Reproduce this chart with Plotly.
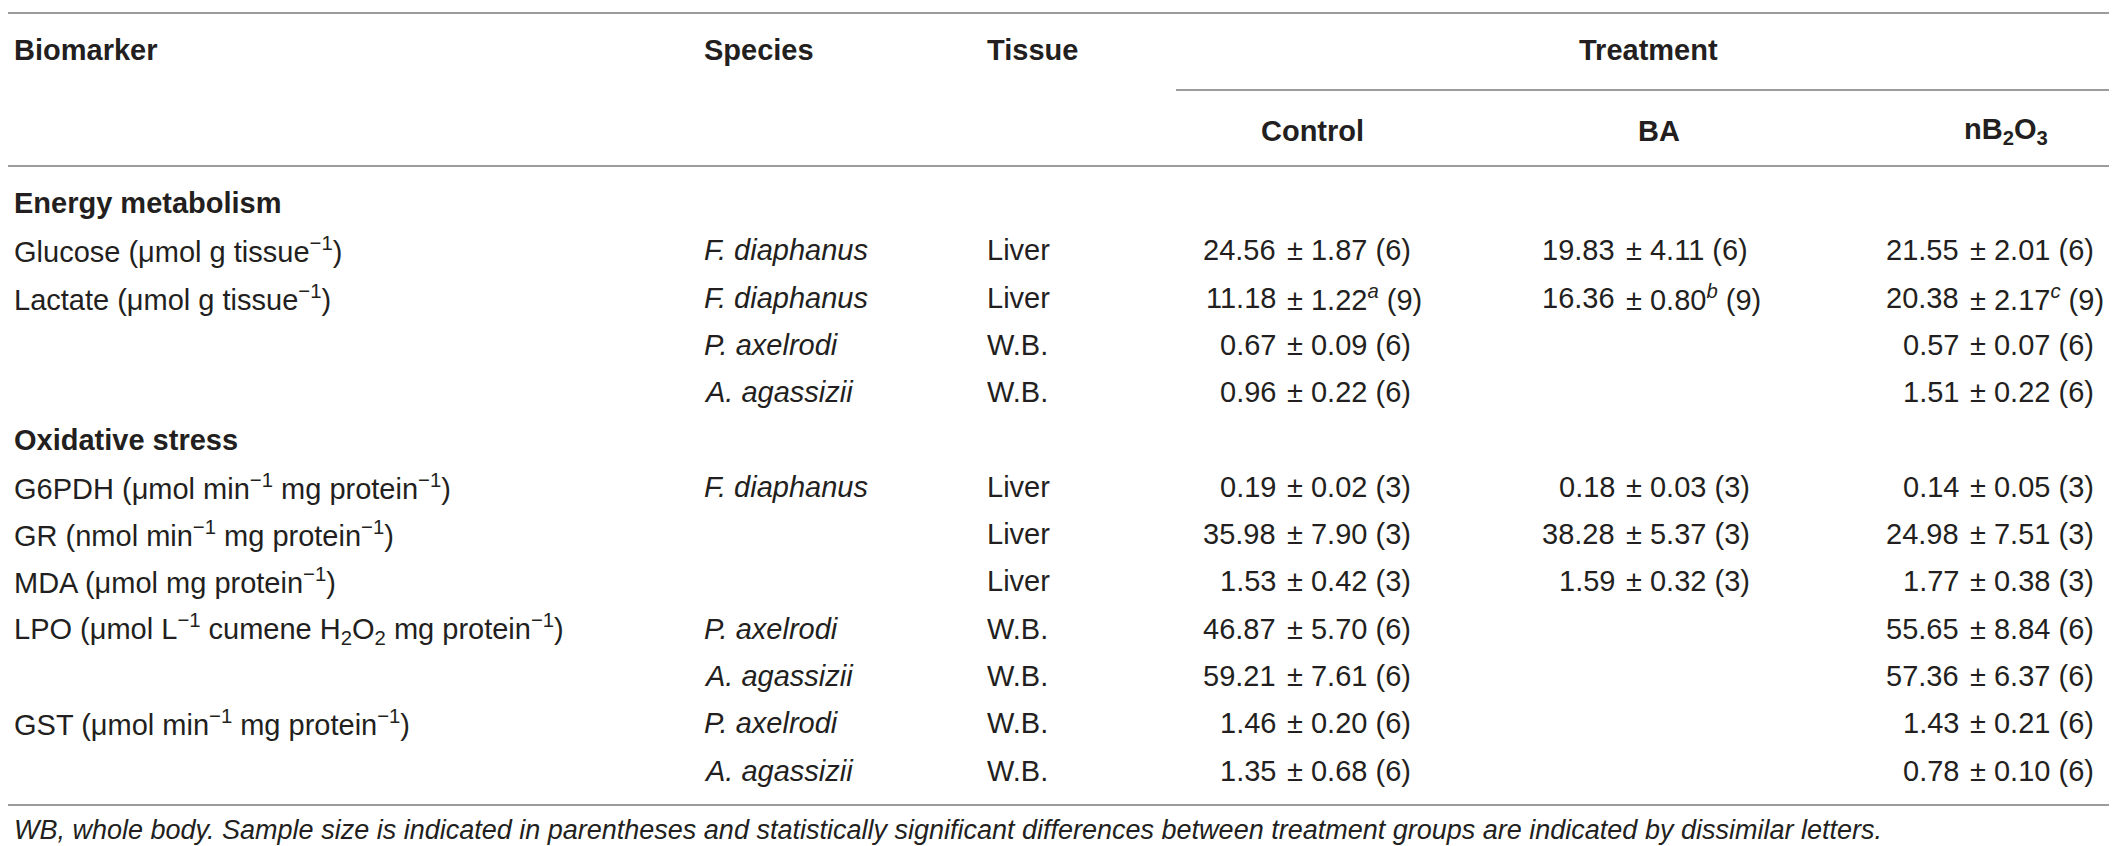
import plotly.graph_objects as go

# table content, one entry per body row (section headings included)
row_labels = [
    "Energy metabolism",
    "Glucose (μmol g tissue<sup>−1</sup>)",
    "Lactate (μmol g tissue<sup>−1</sup>)",
    "",
    "",
    "Oxidative stress",
    "G6PDH (μmol min<sup>−1</sup> mg protein<sup>−1</sup>)",
    "GR (nmol min<sup>−1</sup> mg protein<sup>−1</sup>)",
    "MDA (μmol mg protein<sup>−1</sup>)",
    "LPO (μmol L<sup>−1</sup> cumene H<sub>2</sub>O<sub>2</sub> mg protein<sup>−1</sup>)",
    "",
    "GST (μmol min<sup>−1</sup> mg protein<sup>−1</sup>)",
    "",
]
section_rows = [0, 5]
species = ["", "F. diaphanus", "F. diaphanus", "P. axelrodi", "A. agassizii", "",
           "F. diaphanus", "", "", "P. axelrodi", "A. agassizii", "P. axelrodi", "A. agassizii"]
tissue = ["", "Liver", "Liver", "W.B.", "W.B.", "",
          "Liver", "Liver", "Liver", "W.B.", "W.B.", "W.B.", "W.B."]
control = ["", "24.56 ± 1.87 (6)", "11.18 ± 1.22<sup><i>a</i></sup> (9)", "0.67 ± 0.09 (6)",
           "0.96 ± 0.22 (6)", "", "0.19 ± 0.02 (3)", "35.98 ± 7.90 (3)", "1.53 ± 0.42 (3)",
           "46.87 ± 5.70 (6)", "59.21 ± 7.61 (6)", "1.46 ± 0.20 (6)", "1.35 ± 0.68 (6)"]
ba = ["", "19.83 ± 4.11 (6)", "16.36 ± 0.80<sup><i>b</i></sup> (9)", "", "", "",
      "0.18 ± 0.03 (3)", "38.28 ± 5.37 (3)", "1.59 ± 0.32 (3)", "", "", "", ""]
nb2o3 = ["", "21.55 ± 2.01 (6)", "20.38 ± 2.17<sup><i>c</i></sup> (9)", "0.57 ± 0.07 (6)",
         "1.51 ± 0.22 (6)", "", "0.14 ± 0.05 (3)", "24.98 ± 7.51 (3)", "1.77 ± 0.38 (3)",
         "55.65 ± 8.84 (6)", "57.36 ± 6.37 (6)", "1.43 ± 0.21 (6)", "0.78 ± 0.10 (6)"]

headers = ["Biomarker", "Species", "Tissue"]
group_header = "Treatment"
treatments = ["Control", "BA", "nB<sub>2</sub>O<sub>3</sub>"]
footnote = ("WB, whole body. Sample size is indicated in parentheses and statistically "
            "significant differences between treatment groups are indicated by dissimilar letters.")

# layout (x in pixels, y in row units)
W, H = 2117, 846
first_row_px, row_px = 195, 47.3
x_label, x_species, x_tissue = 4, 694, 977
x_pm = [1277, 1616, 1960]          # left edge of the "±" in each treatment column
x_treat_head = [1304, 1651, 1998]
x_treat_group = 1640
x_right = 2114


def row_y(px):
    return (px - first_row_px) / row_px


FONT = "Liberation Sans, Arial, Helvetica, sans-serif"
TXT = "#231f20"
LINE = "#7b7b7b"
fs = 29

fig = go.Figure()
# invisible trace so the axes exist
fig.add_trace(go.Scatter(x=[0, W], y=[row_y(0), row_y(H)], mode="markers",
                         marker=dict(opacity=0), hoverinfo="skip", showlegend=False))

ann = []


def add(x, y, text, anchor="left", bold=False, italic=False, size=fs):
    if bold:
        text = f"<b>{text}</b>"
    if italic:
        text = f"<i>{text}</i>"
    ann.append(dict(x=x, y=y, xref="x", yref="y", text=text, showarrow=False,
                    xanchor=anchor, yanchor="middle",
                    font=dict(family=FONT, size=size, color=TXT)))


# header rows
y_h1, y_h2 = row_y(42), row_y(123)
for txt, x in zip(headers, [x_label, x_species, x_tissue]):
    add(x, y_h1, txt, bold=True)
add(x_treat_group, y_h1, group_header, anchor="center", bold=True)
for txt, x in zip(treatments, x_treat_head):
    add(x, y_h2, txt, anchor="center", bold=True)

# body rows
for i in range(len(row_labels)):
    if row_labels[i]:
        add(x_label, i, row_labels[i], bold=i in section_rows)
    if species[i]:
        add(x_species, i, species[i], italic=True)
    if tissue[i]:
        add(x_tissue, i, tissue[i])
    for col, xp in zip([control, ba, nb2o3], x_pm):
        if col[i]:
            left, right = col[i].split(" ± ")
            add(xp - 7, i, left, anchor="right")
            add(xp, i, "± " + right)

add(x_label, row_y(822), footnote, italic=True, size=27)

# horizontal rules
shapes = []
for py, x0 in [(5, 0), (82, 1168), (158, 0), (797, 0)]:
    shapes.append(dict(type="line", xref="x", yref="y", x0=x0, x1=x_right,
                       y0=row_y(py), y1=row_y(py), line=dict(color=LINE, width=1.6)))

fig.update_layout(
    width=W, height=H,
    margin=dict(l=0, r=0, t=0, b=0),
    paper_bgcolor="white", plot_bgcolor="white",
    annotations=ann, shapes=shapes,
    xaxis=dict(range=[0, W], visible=False, fixedrange=True),
    yaxis=dict(range=[row_y(H), row_y(0)], visible=False, fixedrange=True),
    showlegend=False,
)

fig.write_html("out.html")
